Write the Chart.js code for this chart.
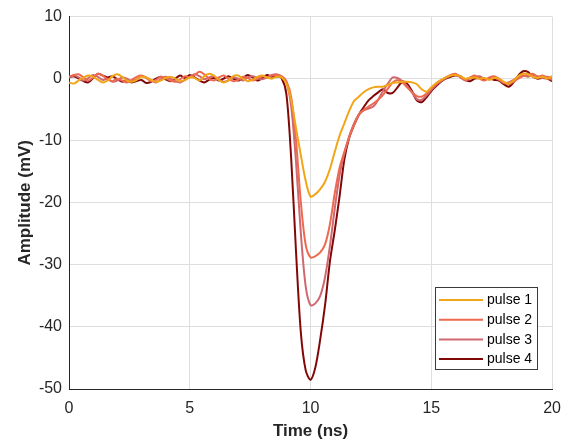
<!DOCTYPE html>
<html>
<head>
<meta charset="utf-8">
<script src="https://cdn.jsdelivr.net/npm/chart.js@4/dist/chart.umd.min.js"></script>
<style>
html,body{margin:0;padding:0;background:#fff;}
#wrap{position:relative;width:571px;height:444px;}
</style>
</head>
<body>
<div id="wrap"><canvas id="c" width="571" height="444"></canvas></div>
<script>
const times = [0,0.2,0.4,0.6,0.8,1,1.2,1.4,1.6,1.8,2,2.2,2.4,2.6,2.8,3,3.2,3.4,3.6,3.8,4,4.2,4.4,4.6,4.8,5,5.2,5.4,5.6,5.8,6,6.2,6.4,6.6,6.8,7,7.2,7.4,7.6,7.8,8,8.2,8.4,8.6,8.8,9,9.2,9.4,9.6,9.8,10,10.2,10.4,10.6,10.8,11,11.2,11.4,11.6,11.8,12,12.2,12.4,12.6,12.8,13,13.2,13.4,13.6,13.8,14,14.2,14.4,14.6,14.8,15,15.2,15.4,15.6,15.8,16,16.2,16.4,16.6,16.8,17,17.2,17.4,17.6,17.8,18,18.2,18.4,18.6,18.8,19,19.2,19.4,19.6,19.8,20];

const pulse1 = [-0.6,-0.8,-0.3,0.2,0.5,0.3,-0.2,-0.6,-0.3,0.4,0.7,0.3,-0.3,-0.5,-0.2,0.3,0.2,-0.2,-0.5,-0.3,0.1,0.3,0.0,-0.4,-0.2,0.2,0.1,-0.3,0.4,0.8,0.5,-0.2,-0.6,-0.3,0.4,0.5,0.0,-0.4,-0.2,0.3,0.5,0.2,0.0,0.3,0.2,
  -0.8,-3.5,-8.0,-12.4,-16.5,-19.0,-18.6,-17.8,-16.6,-14.6,-11.8,-9.2,-7.2,-5.2,-3.6,-2.9,-2.2,-1.7,-1.4,-1.3,-1.3,-1.0,-0.7,-0.6,-0.5,-0.5,-0.6,-0.9,-1.7,-2.1,-1.4,-0.7,-0.2,0.2,0.5,0.6,
  0.4,0.0,0.1,0.2,0.0,0.1,-0.2,0.1,0.0,-0.5,-0.8,-0.3,0.4,0.8,0.7,0.3,0.1,0.3,0.0,0.4];

const pulse2 = [0.3,0.6,0.7,0.2,-0.3,0.2,0.8,0.5,-0.1,-0.4,0.0,-0.3,-0.6,-0.2,0.3,0.5,0.1,-0.4,-0.2,0.3,0.1,-0.3,-0.5,-0.1,0.4,0.2,0.6,1.1,0.7,0.0,-0.3,0.2,0.5,0.0,-0.4,-0.2,0.3,0.1,-0.3,0.0,0.4,0.2,0.5,0.6,0.4,
  -0.4,-3.0,-10.0,-20.0,-26.8,-28.8,-28.6,-28.0,-26.7,-23.5,-18.5,-14.4,-11.8,-9.5,-7.5,-5.8,-5.0,-4.5,-4.0,-3.4,-2.6,-1.6,-0.6,-0.2,-0.6,-1.4,-2.2,-2.8,-2.9,-2.4,-1.6,-0.9,-0.3,0.2,0.6,0.8,
  0.3,-0.2,0.2,0.5,0.0,-0.3,0.2,0.4,0.0,-0.6,-0.9,-0.5,0.0,0.4,0.6,0.8,0.3,0.5,0.2,-0.2];

const pulse3 = [0.2,0.5,0.2,-0.3,0.1,0.6,0.3,-0.2,0.0,-0.5,-0.3,0.2,0.0,-0.4,-0.1,0.4,0.2,-0.3,-0.6,-0.1,0.3,0.0,-0.4,-0.6,-0.2,0.3,0.7,0.4,-0.1,0.2,0.4,-0.1,-0.5,-0.3,0.2,0.0,-0.3,0.2,0.4,0.1,-0.1,0.2,0.6,0.7,0.3,
  -0.6,-4.5,-13.5,-25.0,-33.5,-36.5,-36.2,-35.0,-32.0,-27.0,-21.0,-15.6,-12.0,-9.3,-7.2,-5.8,-5.1,-4.8,-4.5,-3.4,-2.0,-0.8,0.2,0.1,-0.4,-1.2,-2.2,-3.3,-3.4,-2.7,-1.8,-1.0,-0.4,0.1,0.5,0.7,
  0.2,-0.3,0.0,0.3,0.4,0.0,-0.1,0.2,-0.2,-0.7,-0.6,-0.2,0.3,0.5,0.3,0.6,0.4,0.1,0.3,0.0];

const pulse4 = [0.2,0.4,0.0,-0.4,-0.6,0.1,0.8,0.5,0.2,0.4,-0.1,-0.5,-0.3,-0.6,-0.4,-0.2,-0.7,-0.5,0.0,0.3,-0.1,-0.4,0.0,0.5,0.1,0.6,0.2,-0.3,-0.6,-0.2,0.1,-0.3,0.0,0.4,0.0,-0.3,0.1,0.6,0.2,-0.3,0.1,0.6,0.3,0.4,0.1,
  -2.5,-13.0,-28.0,-41.0,-47.0,-48.5,-46.5,-42.0,-36.5,-29.5,-24.5,-19.0,-13.0,-9.5,-7.5,-5.8,-4.6,-3.5,-2.8,-2.2,-1.7,-2.3,-2.3,-1.4,-0.5,-0.8,-2.0,-3.5,-3.8,-3.0,-2.0,-1.2,-0.5,0.0,0.3,0.5,
  0.4,-0.2,-0.4,0.0,0.1,-0.1,0.0,-0.2,-0.3,-0.9,-1.3,-0.6,0.5,1.2,1.1,0.3,0.0,0.1,0.0,-0.4];

const seriesNames = ['pulse 1','pulse 2','pulse 3','pulse 4'];
const seriesColors = ['#F2A516','#EE6A4E','#CF6870','#820808'];
const seriesValues = [pulse1,pulse2,pulse3,pulse4];
const xTicks = [0,5,10,15,20];
const yTicks = [-50,-40,-30,-20,-10,0,10];

const FONT = "'Liberation Sans', Arial, sans-serif";

const legendPlugin = {
  id: 'boxLegend',
  afterDraw(chart) {
    const ctx = chart.ctx;
    const bx = 435.5, by = 287.5, bw = 102, bh = 82;
    ctx.save();
    ctx.fillStyle = '#fff';
    ctx.fillRect(bx, by, bw, bh);
    ctx.strokeStyle = '#3a3a3a';
    ctx.lineWidth = 1;
    ctx.strokeRect(bx, by, bw, bh);
    ctx.font = '14px ' + FONT;
    ctx.textBaseline = 'middle';
    ctx.textAlign = 'left';
    chart.data.datasets.forEach((ds, i) => {
      const y = 300 + i * 19.7;
      ctx.strokeStyle = ds.borderColor;
      ctx.lineWidth = 2;
      ctx.beginPath();
      ctx.moveTo(439, y);
      ctx.lineTo(483, y);
      ctx.stroke();
      ctx.fillStyle = '#000';
      ctx.fillText(ds.label, 487, y + 0.5);
    });
    ctx.restore();
  }
};

new Chart(document.getElementById('c'), {
  type: 'line',
  data: {
    datasets: seriesValues.map((vals, i) => ({
      label: seriesNames[i],
      data: vals.map((v, k) => ({x: times[k], y: v})),
      borderColor: seriesColors[i],
      backgroundColor: seriesColors[i],
      borderWidth: 2,
      pointRadius: 0,
      tension: 0.3,
      fill: false
    }))
  },
  options: {
    responsive: false,
    animation: false,
    devicePixelRatio: 1,
    layout: {padding: {top: 11, right: 18, left: 0, bottom: 0}},
    plugins: {legend: {display: false}, tooltip: {enabled: false}},
    scales: {
      x: {
        type: 'linear', min: 0, max: 20,
        afterBuildTicks: s => { s.ticks = xTicks.map(v => ({value: v})); },
        afterFit: s => { s.height = 55; },
        grid: {color: '#dedede', drawTicks: false, lineWidth: 1},
        border: {display: true, color: '#262626', width: 1},
        ticks: {color: '#262626', font: {family: FONT, size: 16}, padding: 10, maxRotation: 0},
        title: {display: true, text: 'Time (ns)', color: '#262626', font: {family: FONT, size: 17, weight: 'bold'}, padding: {top: 0, bottom: 2}}
      },
      y: {
        type: 'linear', min: -50, max: 10,
        afterBuildTicks: s => { s.ticks = yTicks.map(v => ({value: v})); },
        afterFit: s => { s.width = 69; },
        grid: {color: '#dedede', drawTicks: false, lineWidth: 1},
        border: {display: true, color: '#262626', width: 1},
        ticks: {color: '#262626', font: {family: FONT, size: 16}, padding: 7},
        title: {display: true, text: 'Amplitude (mV)', color: '#262626', font: {family: FONT, size: 17, weight: 'bold'}, padding: {top: 15, bottom: 0}}
      }
    }
  },
  plugins: [legendPlugin]
});
</script>
</body>
</html>
